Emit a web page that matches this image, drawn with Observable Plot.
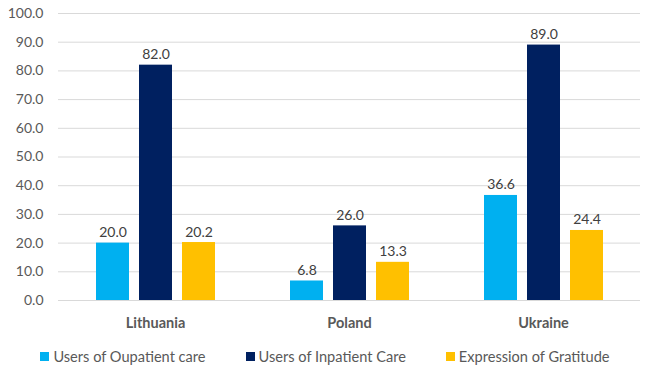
<!DOCTYPE html>
<html><head><meta charset="utf-8">
<script src="https://cdn.jsdelivr.net/npm/d3@7"></script>
<script src="https://cdn.jsdelivr.net/npm/@observablehq/plot@0.6"></script>
<style>
body{margin:0;background:#fff;font-family:Lato, "Open Sans", sans-serif}
#chart{width:648px;height:335px}
#legend{height:30px;display:flex;justify-content:center;align-items:center;gap:40px;padding-left:2px;font-size:14.6px;color:#595959;padding-top:12px;box-sizing:border-box}
#legend .item{display:flex;align-items:center}
#legend .sw{width:9px;height:9px;margin-right:4px}
g[aria-label^="fx-axis"] text{font-weight:700;fill:#595959;font-size:14.5px}
</style></head><body><div id="chart"></div><div id="legend"></div>
<script>
const countries = ["Lithuania", "Poland", "Ukraine"];
const seriesNames = ["Users of Oupatient care", "Users of Inpatient Care", "Expression of Gratitude"];
const outpatient = [20.0, 6.8, 36.6];
const inpatient = [82.0, 26.0, 89.0];
const gratitude = [20.2, 13.3, 24.4];
const yTicks = [0, 10, 20, 30, 40, 50, 60, 70, 80, 90, 100];
const colors = ["#00B0F0", "#002060", "#FFC000"];

const seriesValues = [outpatient, inpatient, gratitude];
const data = [];
countries.forEach((c, i) => {
  seriesNames.forEach((s, j) => data.push({country: c, series: s, value: seriesValues[j][i]}));
});

const plot = Plot.plot({
  width: 648, height: 335,
  marginLeft: 57, marginRight: 8, marginTop: 13, marginBottom: 35,
  style: {fontFamily: "Lato, 'Open Sans', sans-serif", fontSize: "14px", color: "#595959", background: "#fff"},
  fx: {domain: countries, padding: 0, axis: "bottom", label: null, tickSize: 0, tickPadding: 17},
  x: {domain: seriesNames, paddingInner: 0.233, paddingOuter: 0.86, axis: null},
  y: {domain: [0, 100], ticks: yTicks, tickFormat: d3.format(".1f"), tickSize: 0, tickPadding: 15, label: null},
  color: {domain: seriesNames, range: colors},
  marks: [
    Plot.ruleY(yTicks, {stroke: "#d9d9d9", strokeWidth: 1}),
    Plot.barY(data, {fx: "country", x: "series", y: "value", fill: "series"}),
    Plot.text(data, {fx: "country", x: "series", y: "value", text: d => d.value.toFixed(1), dy: -6, lineAnchor: "bottom", fill: "#404040", fontSize: 14})
  ]
});
document.getElementById("chart").appendChild(plot);

const legend = document.getElementById("legend");
seriesNames.forEach((s, j) => {
  const it = document.createElement("div");
  it.className = "item";
  it.innerHTML = `<span class="sw" style="background:${colors[j]}"></span><span>${s}</span>`;
  legend.appendChild(it);
});
</script>
</body></html>
